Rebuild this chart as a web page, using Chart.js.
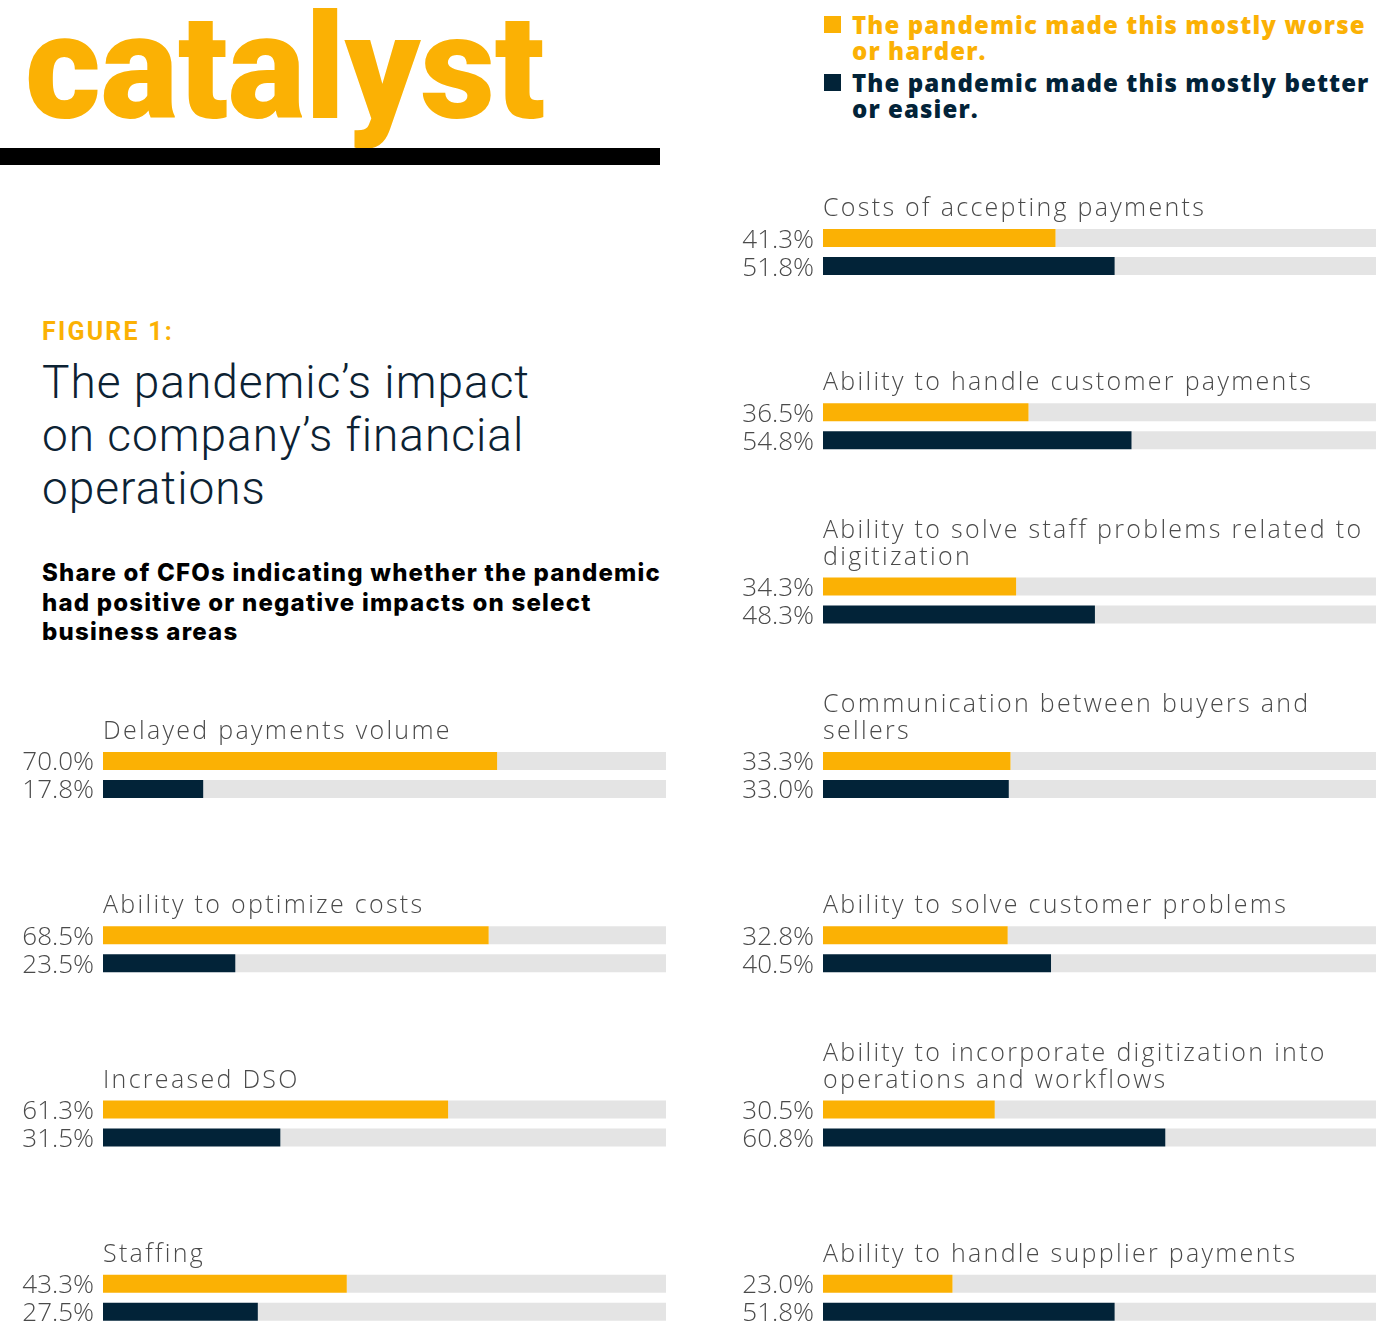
<!DOCTYPE html>
<html>
<head>
<meta charset="utf-8">
<script src="https://cdn.jsdelivr.net/npm/chart.js@4"></script>
<style>
  html, body { margin: 0; padding: 0; background: #fff; overflow: hidden; }
  #page { position: relative; width: 1376px; height: 1325px; overflow: hidden; }
  .abs { position: absolute; white-space: nowrap; }
  #logo { left: 25px; top: -4px; font: 900 146px/146px Roboto; color: #FBB104; letter-spacing: -0.3px; }
  #rule { left: 0; top: 148px; width: 660px; height: 17px; background: #000; }
  .leg { left: 852px; font: 800 24px/26px "Open Sans"; letter-spacing: 1.1px; }
  .sw { position: absolute; left: 824px; width: 17px; height: 17px; }
  #fig { left: 42px; top: 317px; font: 700 25px/30px Roboto; color: #FBB104; letter-spacing: 2.2px; }
  #title { left: 42px; top: 356px; font: 300 46px/53px Roboto; color: #0c2233; letter-spacing: 1px; }
  #sub { left: 42px; top: 558px; font: 800 24px/29.5px Inter; color: #000; letter-spacing: 1.2px; }
  canvas { position: absolute; top: 0; }
</style>
</head>
<body>
<div id="page">
  <div id="logo" class="abs">catalyst</div>
  <div id="rule" class="abs"></div>

  <div class="sw" style="top:16px;background:#FBB104"></div>
  <div class="abs leg" style="top:12px;color:#FBB104">The pandemic made this mostly worse<br>or harder.</div>
  <div class="sw" style="top:74px;background:#022338"></div>
  <div class="abs leg" style="top:70px;color:#022338">The pandemic made this mostly better<br>or easier.</div>

  <div id="fig" class="abs">FIGURE 1:</div>
  <div id="title" class="abs">The pandemic’s impact<br>on company’s financial<br>operations</div>
  <div id="sub" class="abs">Share of CFOs indicating whether the pandemic<br>had positive or negative impacts on select<br>business areas</div>

  <canvas id="leftChart" width="666" height="1400" style="left:0"></canvas>
  <canvas id="rightChart" width="666" height="1400" style="left:720px"></canvas>
</div>

<script>
// left column
const leftLabels = [
    'Delayed payments volume',
    'Ability to optimize costs',
    'Increased DSO',
    'Staffing'
];
const leftWorse = [70.0, 68.5, 61.3, 43.3];
const leftBetter = [17.8, 23.5, 31.5, 27.5];

// right column
const rightLabels = [
    'Costs of accepting payments',
    'Ability to handle customer payments',
    ['Ability to solve staff problems related to', 'digitization'],
    ['Communication between buyers and', 'sellers'],
    'Ability to solve customer problems',
    ['Ability to incorporate digitization into', 'operations and workflows'],
    'Ability to handle supplier payments'
];
const rightWorse = [41.3, 36.5, 34.3, 33.3, 32.8, 30.5, 23.0];
const rightBetter = [51.8, 54.8, 48.3, 33.0, 40.5, 60.8, 51.8];

const ORANGE = '#FBB104';
const NAVY = '#022338';
const TRACK = '#E4E4E4';
const TEXT = '#4a4a4a';

const labelPlugin = {
    id: 'pairLabels',
    afterDatasetsDraw(chart) {
        const ctx = chart.ctx;
        const area = chart.chartArea;
        const top = chart.getDatasetMeta(0).data;
        const bottom = chart.getDatasetMeta(2).data;
        ctx.save();
        ctx.fillStyle = TEXT;
        ctx.textBaseline = 'alphabetic';
        chart.data.labels.forEach((lab, i) => {
            const y1 = top[i].y, y2 = bottom[i].y;
            // percentages
            ctx.font = '300 26px "Open Sans"';
            ctx.letterSpacing = '0px';
            ctx.textAlign = 'right';
            ctx.fillText(chart.data.datasets[0].data[i].toFixed(1) + '%', area.left - 9, y1 + 9.5);
            ctx.fillText(chart.data.datasets[2].data[i].toFixed(1) + '%', area.left - 9, y2 + 9.5);
            // category title above the pair
            const lines = Array.isArray(lab) ? lab : [lab];
            ctx.font = '300 25px "Open Sans"';
            ctx.letterSpacing = '2.3px';
            ctx.textAlign = 'left';
            lines.forEach((ln, k) => {
                ctx.fillText(ln, area.left, y1 - 22 - (lines.length - 1 - k) * 27);
            });
        });
        ctx.restore();
    }
};

function makeConfig(labels, worse, better, padTop) {
    return {
        type: 'bar',
        data: {
            labels: labels,
            datasets: [
                { data: worse, backgroundColor: ORANGE, stack: 'a' },
                { data: worse.map(v => 100 - v), backgroundColor: TRACK, stack: 'a' },
                { data: better, backgroundColor: NAVY, stack: 'b' },
                { data: better.map(v => 100 - v), backgroundColor: TRACK, stack: 'b' }
            ]
        },
        options: {
            indexAxis: 'y',
            responsive: false,
            animation: false,
            categoryPercentage: 56 / 174.3,
            barPercentage: 18 / 28,
            layout: { padding: { top: padTop, left: 103, right: 0, bottom: 15 } },
            scales: {
                x: { display: false, stacked: true, min: 0, max: 100 },
                y: { display: false, stacked: true }
            },
            plugins: {
                legend: { display: false },
                tooltip: { enabled: false }
            }
        },
        plugins: [labelPlugin]
    };
}

const leftChart = new Chart(
    document.getElementById('leftChart').getContext('2d'),
    makeConfig(leftLabels, leftWorse, leftBetter, 687.85)
);

const rightChart = new Chart(
    document.getElementById('rightChart').getContext('2d'),
    makeConfig(rightLabels, rightWorse, rightBetter, 164.85)
);
</script>
</body>
</html>
